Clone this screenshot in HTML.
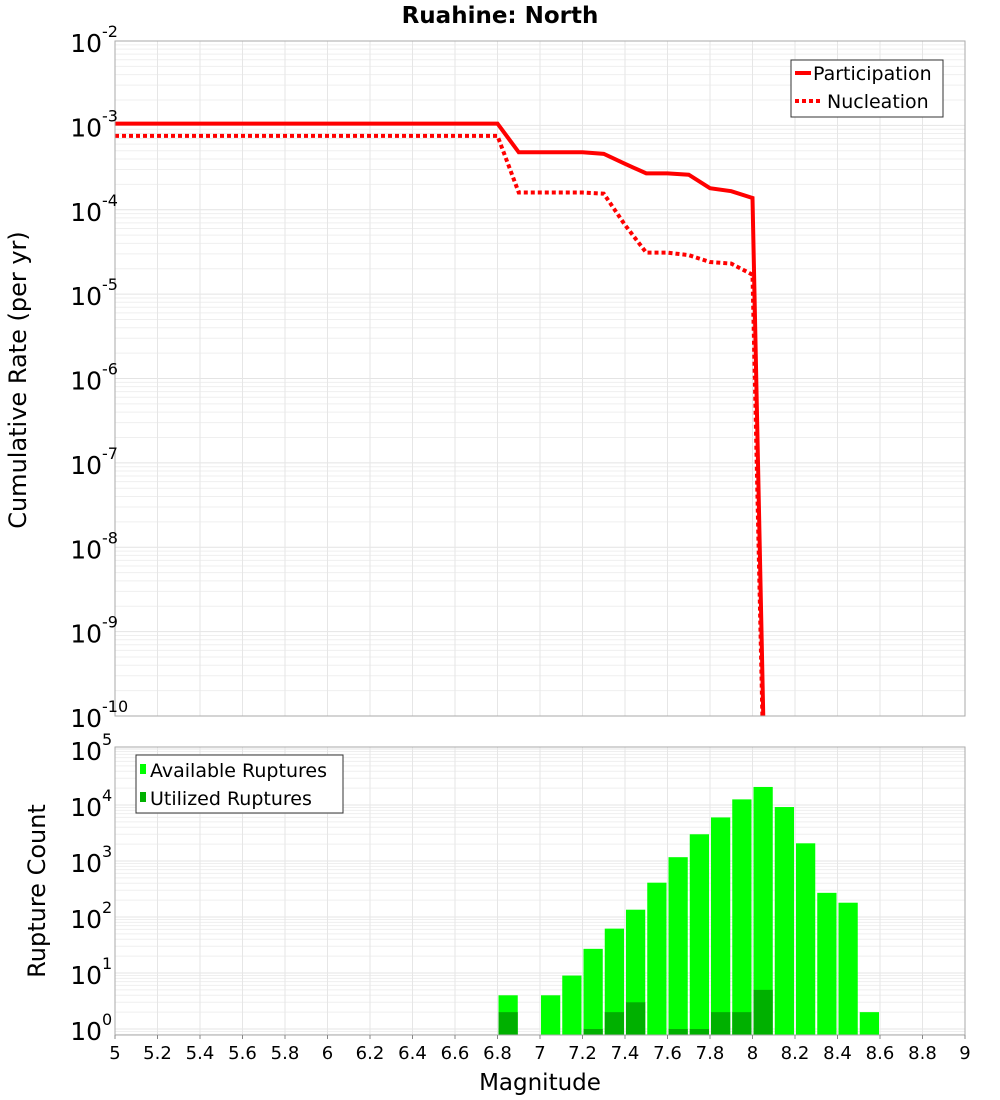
<!DOCTYPE html>
<html><head><meta charset="utf-8"><style>
html,body{margin:0;padding:0;background:#fff;}
svg{display:block;font-family:"DejaVu Sans","Liberation Sans",sans-serif;}
</style></head><body>
<svg id="chart" width="1000" height="1100" viewBox="0 0 1000 1100" xmlns="http://www.w3.org/2000/svg">
<text x="500" y="23" text-anchor="middle" font-size="23" font-weight="bold">Ruahine: North</text>
<g id="topg"></g><g id="botg"></g>
<text transform="translate(26,380) rotate(-90)" text-anchor="middle" font-size="24">Cumulative Rate (per yr)</text>
<text transform="translate(45,891) rotate(-90)" text-anchor="middle" font-size="24">Rupture Count</text>
<text x="540" y="1090" text-anchor="middle" font-size="23">Magnitude</text>
</svg>
<script>
const mags = [5.0,5.1,5.2,5.3,5.4,5.5,5.6,5.7,5.8,5.9,6.0,6.1,6.2,6.3,6.4,6.5,6.6,6.7,6.8,6.9,7.0,7.1,7.2,7.3,7.4,7.5,7.6,7.7,7.8,7.9,8.0,8.1];
const participation = [1.05e-3,1.05e-3,1.05e-3,1.05e-3,1.05e-3,1.05e-3,1.05e-3,1.05e-3,1.05e-3,1.05e-3,1.05e-3,1.05e-3,1.05e-3,1.05e-3,1.05e-3,1.05e-3,1.05e-3,1.05e-3,1.05e-3,4.8e-4,4.8e-4,4.8e-4,4.8e-4,4.6e-4,3.5e-4,2.7e-4,2.7e-4,2.6e-4,1.8e-4,1.66e-4,1.38e-4,1e-16];
const nucleation = [7.5e-4,7.5e-4,7.5e-4,7.5e-4,7.5e-4,7.5e-4,7.5e-4,7.5e-4,7.5e-4,7.5e-4,7.5e-4,7.5e-4,7.5e-4,7.5e-4,7.5e-4,7.5e-4,7.5e-4,7.5e-4,7.5e-4,1.6e-4,1.6e-4,1.6e-4,1.6e-4,1.55e-4,6.6e-5,3.1e-5,3.1e-5,2.9e-5,2.4e-5,2.3e-5,1.7e-5,1e-16];
const binMags = [6.8,6.9,7.0,7.1,7.2,7.3,7.4,7.5,7.6,7.7,7.8,7.9,8.0,8.1,8.2,8.3,8.4,8.5];
const available = [4,0,4,9,27,62,135,410,1170,3000,6000,12600,21000,9200,2070,270,180,2];
const utilized = [2,0,0,0,1,2,3,0,1,1,2,2,5,0,0,0,0,0];
const xTicks = ["5","5.2","5.4","5.6","5.8","6","6.2","6.4","6.6","6.8","7","7.2","7.4","7.6","7.8","8","8.2","8.4","8.6","8.8","9"];
const topExps = [-2,-3,-4,-5,-6,-7,-8,-9,-10];
const botExps = [5,4,3,2,1,0];

const NS="http://www.w3.org/2000/svg";
const L=115,R=965;
const T1=41,B1=716,T2=747,B2=1035;
const xs=m=>L+(m-5)*(R-L)/4;
const yTop=v=>T1+(-2-Math.log10(v))*(B1-T1)/8;
const yBot=v=>1029-Math.log10(v)*56;
function mk(p,tag,at){const e=document.createElementNS(NS,tag);for(const k in at)e.setAttribute(k,at[k]);p.appendChild(e);return e;}

const gTop=document.getElementById('topg'), gBot=document.getElementById('botg');
const defs=mk(document.getElementById('chart'),'defs',{});
const c1=mk(defs,'clipPath',{id:'c1'});mk(c1,'rect',{x:L,y:T1,width:R-L,height:B1-T1});
const c2=mk(defs,'clipPath',{id:'c2'});mk(c2,'rect',{x:L,y:T2,width:R-L,height:B2-T2});

function grids(g,yf,lo,hi,top_,bottom_,cl){
  const gg=mk(g,'g',{'clip-path':cl});
  
  
  for(let e=lo;e<hi;e++)for(let k=1;k<10;k++){const y=yf(k*Math.pow(10,e));if(y>=top_&&y<=bottom_)mk(gg,'line',{x1:L,x2:R,y1:y,y2:y,stroke:k==1?'#e4e4e4':'#efefef','stroke-width':1});}
  for(let i=0;i<=20;i++){const x=xs(5+i*0.2);mk(gg,'line',{x1:x,x2:x,y1:top_,y2:bottom_,stroke:'#e6e6e6','stroke-width':1});}
}
grids(gTop,yTop,-10,-1,T1,B1,'url(#c1)');
grids(gBot,yBot,-1,6,T2,B2,'url(#c2)');

function line(arr,dash,name){
  const pts=mags.map((m,i)=>xs(m)+','+yTop(arr[i])).join(' ');
  const p=mk(gTop,'polyline',{points:pts,fill:'none',stroke:'#ff0000','stroke-width':4,'clip-path':'url(#c1)','stroke-linejoin':'miter'});
  if(dash)p.setAttribute('stroke-dasharray',dash);
  
  
}
line(nucleation,'4,3','nucleation-line');
line(participation,null,'participation-line');

const bw=(R-L)/40;
binMags.forEach((m,i)=>{
  if(available[i]>0){
    const y=yBot(available[i]);
    const r=mk(gBot,'rect',{x:xs(m)+1,y:y,width:bw-2,height:B2-y,fill:'#00ff00','clip-path':'url(#c2)'});
    
    
  }
  if(utilized[i]>0){
    const y=yBot(utilized[i]);
    const r=mk(gBot,'rect',{x:xs(m)+1,y:y,width:bw-2,height:B2-y,fill:'#00b000','clip-path':'url(#c2)'});
    
    
  }
});

const f1=mk(gTop,'rect',{x:L,y:T1,width:R-L,height:B1-T1,fill:'none',stroke:'#aaa','stroke-width':1});


const f2=mk(gBot,'rect',{x:L,y:T2,width:R-L,height:B2-T2,fill:'none',stroke:'#aaa','stroke-width':1});



function ylab(g,y,e,name){
  const t=mk(g,'text',{x:102,y:y+11,'text-anchor':'end','font-size':25});
  
  
  t.textContent='10';
  const s=mk(g,'text',{x:102,y:y-4,'text-anchor':'start','font-size':16});
  s.textContent=String(e);
}
topExps.forEach(e=>ylab(gTop,yTop(Math.pow(10,e)),e,'top-y-tick-label'));
botExps.forEach(e=>ylab(gBot,yBot(Math.pow(10,e)),e,'bottom-y-tick-label'));

xTicks.forEach(s=>{
  const x=xs(parseFloat(s));
  mk(gBot,'line',{x1:x,x2:x,y1:B2,y2:B2+4,stroke:'#888'});
  const t=mk(gBot,'text',{x:x,y:1059,'text-anchor':'middle','font-size':18});
  
  
  t.textContent=s;
});

const lg1=mk(gTop,'g',{});


mk(lg1,'rect',{x:791,y:60,width:152,height:57,fill:'#fff',stroke:'#333'});
mk(lg1,'line',{x1:795,x2:811,y1:73,y2:73,stroke:'#f00','stroke-width':4});
mk(lg1,'line',{x1:795,x2:822,y1:101,y2:101,stroke:'#f00','stroke-width':4,'stroke-dasharray':'4,3'});
const lt1=mk(lg1,'text',{x:813,y:80,'font-size':19});lt1.textContent='Participation';
const lt2=mk(lg1,'text',{x:827,y:108,'font-size':19});lt2.textContent='Nucleation';

const lg2=mk(gBot,'g',{});


mk(lg2,'rect',{x:136,y:755,width:207,height:58,fill:'#fff',stroke:'#333'});
mk(lg2,'rect',{x:140,y:764,width:6,height:10,fill:'#00ff00'});
mk(lg2,'rect',{x:140,y:792,width:6,height:10,fill:'#00b000'});
const lt3=mk(lg2,'text',{x:150,y:777,'font-size':19});lt3.textContent='Available Ruptures';
const lt4=mk(lg2,'text',{x:150,y:805,'font-size':19});lt4.textContent='Utilized Ruptures';
</script>
</body></html>
